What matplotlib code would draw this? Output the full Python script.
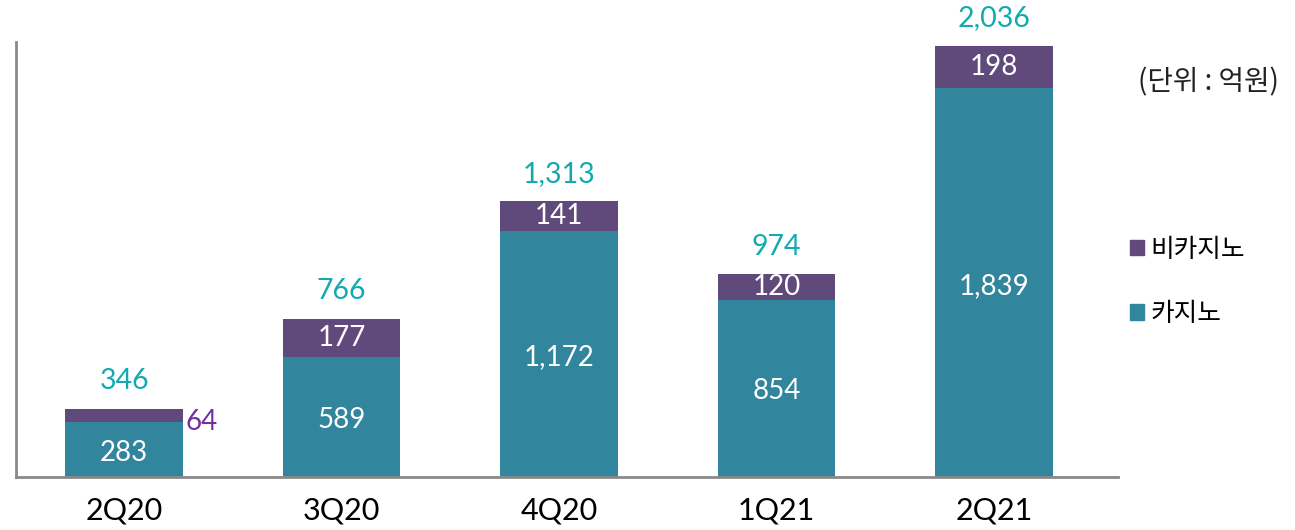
import matplotlib
matplotlib.use("Agg")
import matplotlib.pyplot as plt
from matplotlib.patches import Patch

plt.rcParams["font.family"] = ["Lato", "Noto Sans CJK KR", "DejaVu Sans"]

quarters = ["2Q20", "3Q20", "4Q20", "1Q21", "2Q21"]
casino = [283, 589, 1172, 854, 1839]
non_casino = [64, 177, 141, 120, 198]
totals = [346, 766, 1313, 974, 2036]

CASINO_COLOR = "#31859C"
NON_CASINO_COLOR = "#604A7B"
TOTAL_COLOR = "#12AAAE"
AXIS_COLOR = "#898989"

fig = plt.figure(figsize=(12.95, 5.30), dpi=100)
ax = fig.add_axes([0.0124, 0.1, 0.8509, 0.8208])

x = list(range(len(quarters)))
width = 0.54
ax.bar(x, casino, width, color=CASINO_COLOR, zorder=2)
ax.bar(x, non_casino, width, bottom=casino, color=NON_CASINO_COLOR, zorder=2)

for i in x:
    ax.text(i, casino[i] / 2, f"{casino[i]:,}", ha="center", va="center",
            fontsize=20, color="white", zorder=3)
    if non_casino[i] > 100:
        ax.text(i, casino[i] + non_casino[i] / 2, f"{non_casino[i]:,}",
                ha="center", va="center", fontsize=20, color="white", zorder=3)
    else:
        # too thin to hold a label, put it beside the bar
        ax.annotate(f"{non_casino[i]:,}", (i + width / 2, casino[i] + non_casino[i] / 2),
                    xytext=(2, -5), textcoords="offset points",
                    ha="left", va="center", fontsize=20, color="#7030A0")
    ax.annotate(f"{totals[i]:,}", (i, casino[i] + non_casino[i]),
                xytext=(0, 19.5), textcoords="offset points",
                ha="center", va="center", fontsize=20.5, color=TOTAL_COLOR)

ax.set_xlim(-0.497, 4.57)
ax.set_ylim(28, 2054)
ax.set_xticks(x)
ax.set_xticklabels(quarters, fontsize=22)
ax.tick_params(axis="x", length=0, pad=14)
ax.set_yticks([])
for side in ["top", "right"]:
    ax.spines[side].set_visible(False)
for side in ["left", "bottom"]:
    ax.spines[side].set_color(AXIS_COLOR)
    ax.spines[side].set_linewidth(2)

fig.text(0.9328, 0.845, "(단위 : 억원)", ha="center", va="center",
         fontsize=20, family=["Noto Sans CJK KR"], color="#222222")

handles = [Patch(color=NON_CASINO_COLOR, label="비카지노"),
           Patch(color=CASINO_COLOR, label="카지노")]
fig.legend(handles=handles, loc="center left", bbox_to_anchor=(0.8545, 0.468),
           frameon=False, prop={"family": "Noto Sans CJK KR", "size": 18.5},
           handlelength=0.55, handleheight=0.55, handletextpad=0.25,
           labelspacing=1.5)

plt.savefig("out.png", dpi=100)
plt.close()
